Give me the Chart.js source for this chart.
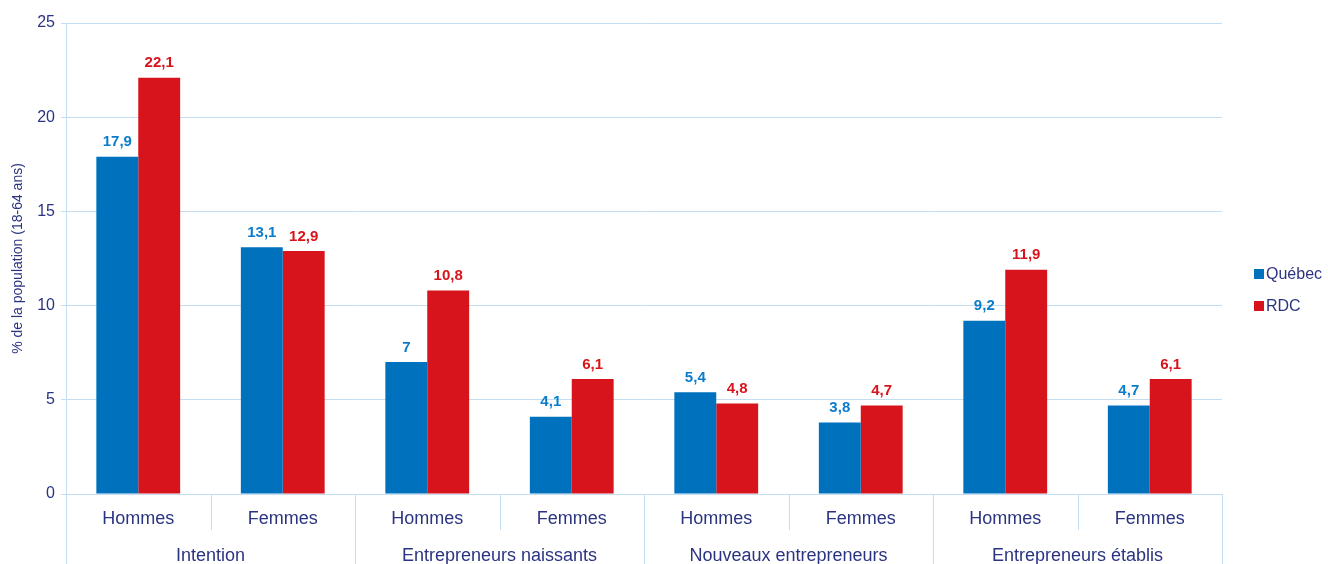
<!DOCTYPE html>
<html>
<head>
<meta charset="utf-8">
<script src="https://cdn.jsdelivr.net/npm/chart.js@4"></script>
<style>
  html, body { margin: 0; padding: 0; background: #fff; }
  #wrap { width: 1328px; height: 564px; }
</style>
</head>
<body>
<div id="wrap"><canvas id="chart" width="1328" height="564"></canvas></div>
<script>
// Data
const categories = ['Hommes', 'Femmes', 'Hommes', 'Femmes', 'Hommes', 'Femmes', 'Hommes', 'Femmes'];
const groups = ['Intention', 'Entrepreneurs naissants', 'Nouveaux entrepreneurs', 'Entrepreneurs établis'];
const quebec = [17.9, 13.1, 7, 4.1, 5.4, 3.8, 9.2, 4.7];
const rdc = [22.1, 12.9, 10.8, 6.1, 4.8, 4.7, 11.9, 6.1];
const seriesNames = ['Québec', 'RDC'];
const yTicks = [0, 5, 10, 15, 20, 25];

const navy = '#2b3480';
const gridBlue = '#c5ddf0';
const blue = '#0071bd';
const red = '#d7141b';
const FONT = '"Liberation Sans", Arial, sans-serif';

function fmt(v) {
    return String(v).replace('.', ',');
}

// Draws value labels, category separators, group labels and the legend
const extras = {
    id: 'extras',
    afterDatasetsDraw(chart) {
        const c = chart.ctx;
        const x = chart.scales.x;
        const area = chart.chartArea;
        const colors = [blue, red];

        // value labels above bars
        c.save();
        c.font = 'bold 15px ' + FONT;
        c.textAlign = 'center';
        c.textBaseline = 'bottom';
        chart.data.datasets.forEach((ds, d) => {
            const meta = chart.getDatasetMeta(d);
            c.fillStyle = d === 0 ? '#0b7ccc' : red;
            meta.data.forEach((bar, i) => {
                c.fillText(fmt(ds.data[i]), bar.x, bar.y - 7);
            });
        });

        // separators under the axis
        const half = (x.getPixelForValue(1) - x.getPixelForValue(0)) / 2;
        c.strokeStyle = gridBlue;
        c.lineWidth = 1;
        for (let i = 0; i <= categories.length; i++) {
            const px = Math.round(x.getPixelForValue(i) - half) + 0.5;
            const bottom = i % 2 === 0 ? chart.height : area.bottom + 36;
            c.beginPath();
            c.moveTo(px, i === 0 ? area.top : area.bottom);
            c.lineTo(px, bottom);
            c.stroke();
        }

        // group labels
        c.fillStyle = navy;
        c.font = '18px ' + FONT;
        c.textBaseline = 'middle';
        groups.forEach((g, k) => {
            const mid = (x.getPixelForValue(2 * k) + x.getPixelForValue(2 * k + 1)) / 2;
            c.fillText(g, mid, area.bottom + 62);
        });

        // legend
        c.font = '16px ' + FONT;
        c.textAlign = 'left';
        seriesNames.forEach((name, k) => {
            const ly = 274 + k * 32;
            c.fillStyle = colors[k];
            c.fillRect(1254, ly - 5, 10, 10);
            c.fillStyle = navy;
            c.fillText(name, 1266, ly + 1);
        });
        c.restore();
    }
};

new Chart(document.getElementById('chart'), {
    type: 'bar',
    data: {
        labels: categories,
        datasets: [
            { label: seriesNames[0], data: quebec, backgroundColor: blue },
            { label: seriesNames[1], data: rdc, backgroundColor: red }
        ]
    },
    options: {
        responsive: false,
        animation: false,
        layout: { padding: { top: 23, right: 106, left: 0, bottom: 0 } },
        datasets: {
            bar: { categoryPercentage: 0.58, barPercentage: 1 }
        },
        plugins: {
            legend: { display: false },
            tooltip: { enabled: false }
        },
        scales: {
            x: {
                grid: { display: false },
                border: { display: false },
                ticks: {
                    color: navy,
                    font: { family: FONT, size: 18 },
                    padding: 6,
                    maxRotation: 0
                },
                afterFit(scale) { scale.height = 70; }
            },
            y: {
                min: 0,
                max: 25,
                afterBuildTicks(scale) {
                    scale.ticks = yTicks.map(v => ({ value: v }));
                },
                grid: { color: gridBlue, tickLength: 5, lineWidth: 1 },
                border: { color: gridBlue },
                ticks: {
                    color: navy,
                    font: { family: FONT, size: 16 },
                    padding: 6
                },
                title: {
                    display: true,
                    text: '% de la population (18-64 ans)',
                    color: navy,
                    font: { family: FONT, size: 14 },
                    padding: { top: 10, bottom: 2 }
                },
                afterFit(scale) { scale.width = 66; }
            }
        }
    },
    plugins: [extras]
});
</script>
</body>
</html>
